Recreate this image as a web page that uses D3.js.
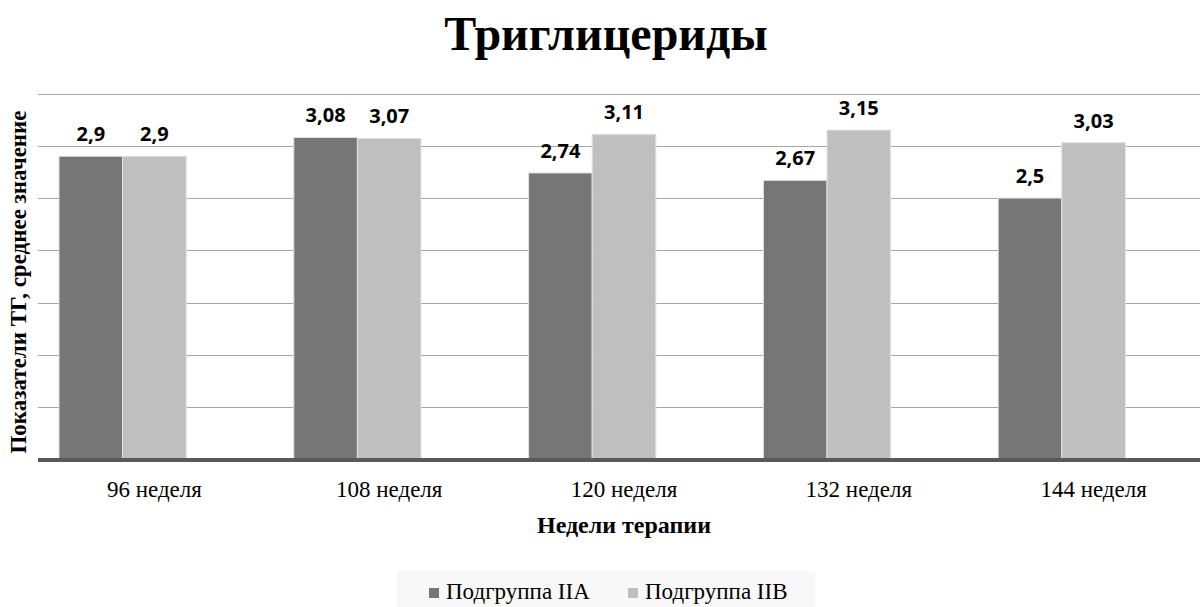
<!DOCTYPE html>
<html>
<head>
<meta charset="utf-8">
<script src="https://cdn.jsdelivr.net/npm/d3@7"></script>
<style>
  html, body { margin: 0; padding: 0; background: #fff; }
  svg { display: block; }
</style>
</head>
<body>
<div id="chart"></div>
<script>
// Data
const categories = ["96 неделя", "108 неделя", "120 неделя", "132 неделя", "144 неделя"];
const seriesNames = ["Подгруппа IIA", "Подгруппа IIB"];
const valuesIIA = [2.9, 3.08, 2.74, 2.67, 2.5];
const valuesIIB = [2.9, 3.07, 3.11, 3.15, 3.03];
const yGridTicks = [0, 0.5, 1, 1.5, 2, 2.5, 3, 3.5];

const titleText = "Триглицериды";
const yAxisTitle = "Показатели ТГ, среднее значение";
const xAxisTitle = "Недели терапии";

const colors = { "Подгруппа IIA": "#767676", "Подгруппа IIB": "#bfbfbf" };

const width = 1200, height = 607;
const serif = "'Liberation Serif', 'Times New Roman', serif";

const svg = d3.select("#chart")
    .append("svg")
    .attr("width", width)
    .attr("height", height);

svg.append("rect")
    .attr("width", width)
    .attr("height", height)
    .attr("fill", "#fff");

// Scales (plot area runs a bit past the right edge, like the cropped original)
const x0 = d3.scaleBand()
    .domain(categories)
    .range([37, 1211])
    .padding(0);

// Excel-style group with an empty third slot, so the pair sits left of centre
const groupGap = 22;
const x1 = d3.scaleBand()
    .domain([...seriesNames, "_empty"])
    .range([groupGap, x0.bandwidth() - groupGap])
    .padding(0);

const y = d3.scaleLinear()
    .domain([0, 3.5])
    .range([459.5, 93.5]);

const fmt = d3.formatLocale({ decimal: ",", thousands: " ", grouping: [3], currency: ["", ""] }).format("~g");

// Gridlines
svg.append("g")
    .selectAll("line")
    .data(yGridTicks.filter(t => t > 0))
    .enter()
    .append("line")
    .attr("x1", 38)
    .attr("x2", width)
    .attr("y1", d => Math.round(y(d)) + 0.5)
    .attr("y2", d => Math.round(y(d)) + 0.5)
    .attr("stroke", "#a6a6a6")
    .attr("stroke-width", 1);

// Bars
const rows = categories.map((c, i) => ({
    cat: c,
    values: [
        { key: seriesNames[0], value: valuesIIA[i] },
        { key: seriesNames[1], value: valuesIIB[i] }
    ]
}));

const groups = svg.append("g")
    .selectAll("g")
    .data(rows)
    .enter()
    .append("g")
    .attr("transform", d => `translate(${x0(d.cat)},0)`);

groups.selectAll("rect")
    .data(d => d.values)
    .enter()
    .append("rect")
    .attr("x", d => x1(d.key))
    .attr("y", d => y(d.value))
    .attr("width", x1.bandwidth())
    .attr("height", d => y(0) - y(d.value))
    .attr("fill", d => colors[d.key])
    .attr("stroke", "#e2e2e2")
    .attr("stroke-width", 1);

// Value labels
groups.selectAll("text")
    .data(d => d.values)
    .enter()
    .append("text")
    .attr("x", d => x1(d.key) + x1.bandwidth() / 2)
    .attr("y", d => y(d.value) - 15)
    .attr("text-anchor", "middle")
    .attr("fill", "#000")
    .style("font-family", "'Open Sans', 'Liberation Sans', sans-serif")
    .style("font-weight", "700")
    .style("font-size", "20px")
    .text(d => fmt(d.value));

// Baseline
svg.append("line")
    .attr("x1", 38)
    .attr("x2", width)
    .attr("y1", y(0) + 0.5)
    .attr("y2", y(0) + 0.5)
    .attr("stroke", "#595959")
    .attr("stroke-width", 4);

// X axis labels
const xAxis = d3.axisBottom(x0).tickSize(0).tickPadding(0);
const xg = svg.append("g")
    .attr("transform", `translate(0, ${y(0)})`)
    .call(xAxis);
xg.select(".domain").remove();
xg.selectAll("text")
    .attr("y", 37)
    .attr("dy", null)
    .attr("fill", "#000")
    .style("font-family", serif)
    .style("font-size", "23px");

// Title
svg.append("text")
    .attr("x", 606)
    .attr("y", 50)
    .attr("text-anchor", "middle")
    .style("font-family", serif)
    .style("font-weight", "700")
    .style("font-size", "48px")
    .text(titleText);

// Axis titles
svg.append("text")
    .attr("transform", "translate(26, 282) rotate(-90)")
    .attr("text-anchor", "middle")
    .style("font-family", serif)
    .style("font-weight", "700")
    .style("font-size", "23px")
    .text(yAxisTitle);

svg.append("text")
    .attr("x", 624)
    .attr("y", 533)
    .attr("text-anchor", "middle")
    .style("font-family", serif)
    .style("font-weight", "700")
    .style("font-size", "24px")
    .text(xAxisTitle);

// Legend
const legend = svg.append("g");
legend.append("rect")
    .attr("x", 397)
    .attr("y", 571)
    .attr("width", 418)
    .attr("height", 40)
    .attr("fill", "#f8f8f8");

const legendX = [429, 628];
seriesNames.forEach((name, i) => {
    legend.append("rect")
        .attr("x", legendX[i])
        .attr("y", 588)
        .attr("width", 10)
        .attr("height", 10)
        .attr("fill", colors[name]);
    legend.append("text")
        .attr("x", legendX[i] + 17)
        .attr("y", 599)
        .style("font-family", serif)
        .style("font-size", "23px")
        .text(name);
});
</script>
</body>
</html>
